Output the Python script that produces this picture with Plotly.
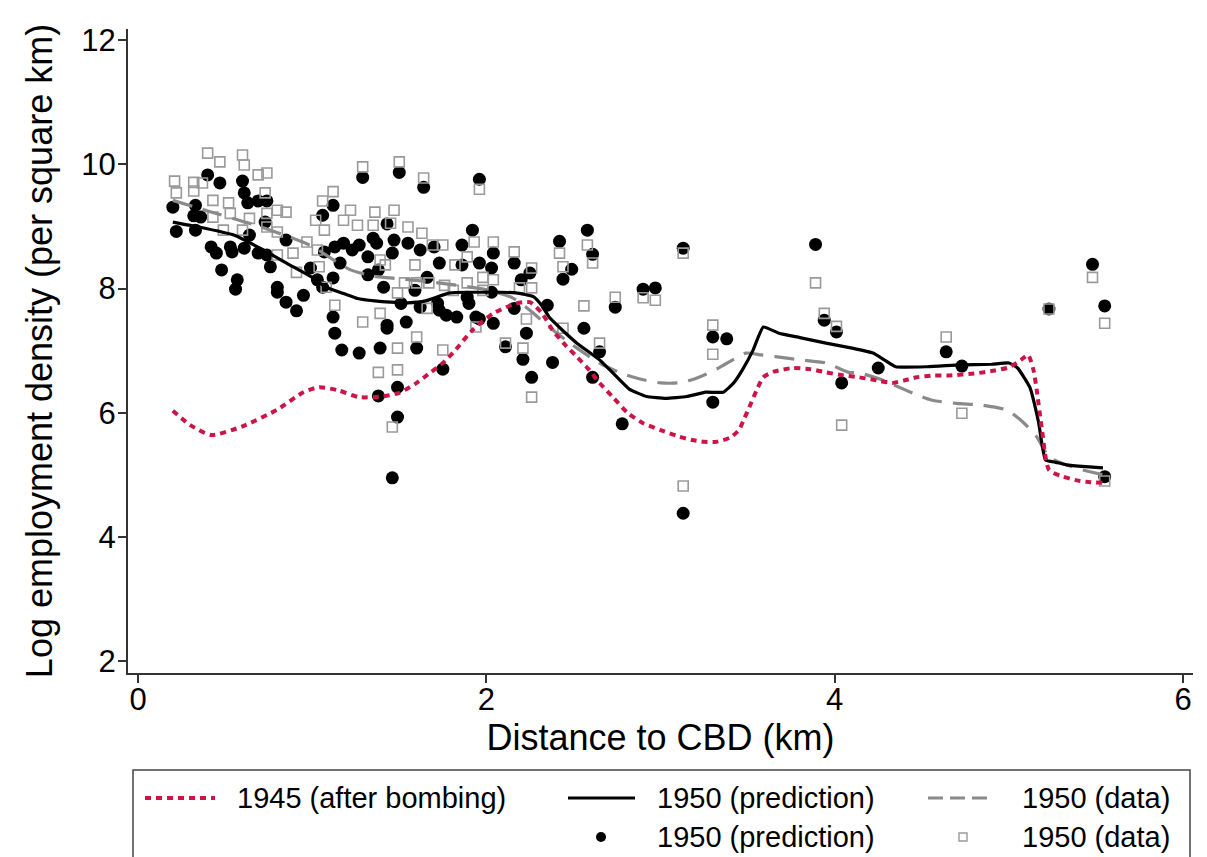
import plotly.graph_objects as go

# ---------------- data ----------------
# 1950 prediction (scatter, black dots)
pred_x = [0.20,0.22,0.33,0.32,0.36,0.33,0.40,0.47,0.42,0.45,0.48,0.53,0.54,0.57,0.56,0.60,0.61,0.63,0.69,0.74,
          0.64,0.61,0.73,0.69,0.74,0.76,0.80,0.80,0.85,0.85,0.91,0.95,0.99,1.03,1.06,1.07,1.06,1.29,1.50,1.64,
          1.96,1.12,1.92,1.13,1.16,1.18,1.23,1.27,1.32,1.35,1.37,1.32,1.38,1.47,1.46,1.43,1.55,1.62,1.70,1.73,
          1.41,1.59,1.66,1.51,1.62,1.86,1.86,1.96,2.03,2.04,1.89,1.90,2.03,1.72,1.73,1.77,1.83,1.94,2.04,1.12,
          1.43,1.54,1.12,1.13,1.17,1.27,1.39,1.43,1.60,1.75,1.38,1.49,1.49,1.46,2.11,2.16,2.58,2.42,2.61,2.49,
          2.44,2.16,2.20,2.25,2.35,2.23,2.21,2.38,2.26,2.56,2.65,2.74,2.61,2.90,2.97,1.96,3.13,2.78,3.30,3.38,
          3.30,3.13,3.89,3.94,4.01,4.04,4.25,4.64,4.73,5.23,5.48,5.55,5.55]
pred_y = [9.31,8.92,9.34,9.17,9.15,8.94,9.83,9.70,8.67,8.57,8.30,8.67,8.59,8.14,7.99,9.73,9.54,9.38,9.41,9.41,
          8.86,8.65,9.07,8.57,8.54,8.35,8.02,7.94,7.78,8.78,7.64,7.89,8.33,8.14,9.18,8.59,8.02,9.79,9.87,9.63,
          9.76,9.34,8.94,8.67,8.41,8.73,8.62,8.70,8.51,8.81,8.73,8.22,8.30,8.78,8.57,9.04,8.73,8.62,8.67,8.41,
          8.02,7.97,8.18,7.76,7.70,8.70,8.38,8.41,8.33,8.57,7.86,7.76,7.94,7.76,7.65,7.57,7.54,7.54,7.44,7.54,
          7.41,7.46,8.17,7.28,7.01,6.96,7.04,7.36,7.04,6.70,6.27,6.41,5.93,4.95,7.06,7.68,8.94,8.76,8.55,8.31,
          8.15,8.41,8.14,8.25,7.73,7.28,6.86,6.81,6.57,7.36,6.98,7.70,6.57,7.99,8.01,7.51,8.65,5.82,7.22,7.19,
          6.17,4.38,8.71,7.49,7.30,6.48,6.72,6.98,6.75,7.67,8.39,7.72,4.97]

# 1950 data (scatter, hollow gray squares)
data_x = [0.21,0.22,0.32,0.37,0.32,0.40,0.47,0.60,0.61,0.69,0.74,0.73,0.43,0.43,0.52,0.53,0.49,0.60,0.64,0.74,
          0.80,0.85,0.74,0.80,1.02,1.07,0.97,1.06,0.80,0.89,1.03,1.04,0.91,1.29,1.50,1.64,1.96,1.12,1.22,1.36,
          1.47,1.18,1.26,1.35,1.45,1.55,1.63,1.69,1.75,1.93,2.04,1.39,1.42,1.59,1.82,1.89,1.98,2.04,1.53,1.60,
          1.67,1.76,1.49,1.81,1.89,1.66,1.39,1.29,1.13,1.08,1.49,1.60,1.75,1.38,1.49,1.46,1.94,2.11,2.16,2.42,
          2.44,2.58,2.61,2.26,2.26,1.98,2.19,2.56,2.74,2.23,2.65,2.21,2.26,2.44,2.90,2.97,3.13,3.30,3.30,3.13,
          3.89,3.94,4.01,4.04,4.64,4.73,5.23,5.48,5.55,5.55]
data_y = [9.73,9.54,9.71,9.70,9.57,10.18,10.04,10.15,9.99,9.83,9.86,9.54,9.42,9.15,9.38,9.21,8.94,8.94,9.13,9.21,
          9.26,9.23,8.99,8.91,9.10,8.94,8.75,9.41,8.54,8.57,8.62,8.35,8.26,9.96,10.04,9.78,9.60,9.56,9.26,9.23,
          9.26,9.10,9.02,9.02,9.05,8.99,8.89,8.70,8.70,8.75,8.75,8.46,8.38,8.38,8.38,8.51,8.18,8.14,8.09,8.09,
          8.09,8.05,7.93,7.97,8.09,7.68,7.60,7.46,7.73,8.02,7.04,7.22,7.01,6.65,6.69,5.77,7.38,7.12,8.59,8.57,
          8.35,8.70,8.41,8.33,8.01,7.97,8.01,7.72,7.86,7.51,7.12,7.04,6.25,7.36,7.85,7.81,8.57,7.41,6.94,4.82,
          8.09,7.60,7.39,5.80,7.22,5.99,7.67,8.18,7.44,4.90]

# 1945 (after bombing) smoothed line
bomb_x = [0.20,0.30,0.42,0.60,0.80,0.95,1.04,1.15,1.27,1.40,1.50,1.60,1.68,1.75,1.82,1.92,2.04,2.17,2.25,2.32,
          2.38,2.45,2.52,2.59,2.65,2.73,2.81,2.90,3.00,3.10,3.18,3.25,3.32,3.40,3.45,3.48,3.51,3.55,3.59,3.65,
          3.76,3.86,3.95,4.05,4.14,4.24,4.33,4.40,4.47,4.57,4.66,4.80,4.92,5.00,5.07,5.11,5.14,5.16,5.19,5.23,
          5.30,5.39,5.47,5.54]
bomb_y = [6.03,5.80,5.64,5.78,6.05,6.33,6.41,6.36,6.25,6.26,6.32,6.48,6.65,6.80,7.00,7.33,7.60,7.76,7.78,7.60,
          7.33,7.10,6.90,6.69,6.48,6.24,6.00,5.83,5.72,5.62,5.56,5.53,5.53,5.60,5.72,5.90,6.09,6.35,6.57,6.66,
          6.72,6.70,6.65,6.60,6.57,6.52,6.48,6.52,6.57,6.60,6.60,6.63,6.68,6.73,6.85,6.93,6.70,6.36,5.72,5.08,
          4.98,4.91,4.88,4.87]

# 1950 prediction smoothed line
predl_x = [0.20,0.35,0.55,0.72,0.87,1.00,1.08,1.18,1.26,1.36,1.45,1.55,1.65,1.79,1.90,1.98,2.08,2.17,2.27,2.32,
           2.36,2.44,2.52,2.65,2.74,2.82,2.92,3.03,3.15,3.26,3.36,3.42,3.47,3.53,3.59,3.68,3.80,3.95,4.10,4.22,
           4.28,4.35,4.53,4.72,4.90,5.00,5.05,5.12,5.17,5.21,5.27,5.33,5.44,5.54]
predl_y = [9.07,8.99,8.86,8.62,8.38,8.18,8.02,7.92,7.84,7.80,7.78,7.77,7.80,7.93,7.94,7.94,7.94,7.93,7.87,7.72,
           7.54,7.32,7.12,6.85,6.60,6.38,6.26,6.23,6.26,6.33,6.33,6.48,6.69,7.00,7.38,7.28,7.21,7.12,7.04,6.96,
           6.86,6.74,6.74,6.77,6.78,6.80,6.72,6.41,5.85,5.24,5.20,5.16,5.13,5.11]

# 1950 data smoothed line
datal_x = [0.20,0.40,0.64,0.85,1.00,1.10,1.22,1.35,1.45,1.70,2.00,2.15,2.25,2.36,2.50,2.65,2.77,2.90,3.00,3.10,
           3.18,3.26,3.34,3.42,3.49,3.58,3.67,3.80,3.95,4.08,4.14,4.25,4.37,4.46,4.56,4.70,4.85,4.99,5.08,5.16,
           5.23,5.32,5.42,5.54]
datal_y = [9.42,9.25,9.05,8.85,8.68,8.50,8.30,8.20,8.17,8.10,7.98,7.85,7.65,7.38,7.08,6.80,6.64,6.53,6.48,6.48,
           6.53,6.62,6.73,6.86,6.96,6.93,6.90,6.85,6.80,6.65,6.64,6.55,6.41,6.30,6.20,6.15,6.12,6.04,5.85,5.61,
           5.29,5.17,5.08,5.00]

x_ticks = [0, 2, 4, 6]
y_ticks = [2, 4, 6, 8, 10, 12]
x_title = "Distance to CBD (km)"
y_title = "Log employment density (per square km)"
legend_labels = ["1945 (after bombing)", "1950 (prediction)", "1950 (data)", "1950 (prediction)", "1950 (data)"]

RED = "#CC1447"
FONT = "Liberation Sans, Arial, Helvetica, sans-serif"

fig = go.Figure()
fig.add_trace(go.Scatter(x=pred_x, y=pred_y, mode="markers", name=legend_labels[3],
                         marker=dict(symbol="circle", size=13, color="black", line=dict(width=0))))
fig.add_trace(go.Scatter(x=data_x, y=data_y, mode="markers", name=legend_labels[4],
                         marker=dict(symbol="square-open", size=10, color="#9a9a9a", line=dict(width=1.6))))
fig.add_trace(go.Scatter(x=datal_x, y=datal_y, mode="lines", name=legend_labels[2],
                         line=dict(color="#8a8a8a", width=3.2, dash="20px,11px", shape="spline", smoothing=0.6)))
fig.add_trace(go.Scatter(x=predl_x, y=predl_y, mode="lines", name=legend_labels[1],
                         line=dict(color="black", width=3.2, shape="spline", smoothing=0.4)))
fig.add_trace(go.Scatter(x=bomb_x, y=bomb_y, mode="lines", name=legend_labels[0],
                         line=dict(color=RED, width=4, dash="6px,5px", shape="spline", smoothing=0.6)))

# ---------- manual Stata-like legend (paper coords) ----------
L, R, T, B = 128, 14, 29, 184
W, H = 1207, 857
pw, ph = W - L - R, H - T - B
def px(x):
    return (x - L) / pw
def py(y):
    return (H - B - y) / ph

shapes = []
shapes.append(dict(type="rect", xref="paper", yref="paper", x0=px(133), x1=px(1190), y0=py(770), y1=py(880),
                   line=dict(color="#444444", width=1.5), fillcolor="white", layer="above"))
r1, r2 = 798, 837
shapes.append(dict(type="line", xref="paper", yref="paper", x0=px(145), x1=px(215), y0=py(r1), y1=py(r1),
                   line=dict(color=RED, width=4, dash="6px,5px")))
shapes.append(dict(type="line", xref="paper", yref="paper", x0=px(568), x1=px(635), y0=py(r1), y1=py(r1),
                   line=dict(color="black", width=3.2)))
shapes.append(dict(type="line", xref="paper", yref="paper", x0=px(928), x1=px(990), y0=py(r1), y1=py(r1),
                   line=dict(color="#8a8a8a", width=3.2, dash="15px,7px")))
shapes.append(dict(type="circle", xref="paper", yref="paper", x0=px(596), x1=px(606), y0=py(r2 + 5), y1=py(r2 - 5),
                   fillcolor="black", line=dict(color="black", width=0)))
shapes.append(dict(type="rect", xref="paper", yref="paper", x0=px(959), x1=px(967), y0=py(r2 + 4), y1=py(r2 - 4),
                   fillcolor="rgba(0,0,0,0)", line=dict(color="#9a9a9a", width=1.4)))

annotations = []
for txt, xx, yy in [(legend_labels[0], 235, r1), (legend_labels[1], 655, r1), (legend_labels[2], 1020, r1),
                    (legend_labels[3], 655, r2), (legend_labels[4], 1020, r2)]:
    annotations.append(dict(text=txt, xref="paper", yref="paper", x=px(xx), y=py(yy), xanchor="left",
                            yanchor="middle", showarrow=False, font=dict(family=FONT, size=29, color="black")))

fig.update_layout(
    width=W, height=H,
    margin=dict(l=L, r=R, t=T, b=B),
    paper_bgcolor="white", plot_bgcolor="white",
    showlegend=False,
    shapes=shapes, annotations=annotations,
    font=dict(family=FONT, color="black"),
)
fig.update_xaxes(range=[-0.0574, 6.057], tickvals=x_ticks, ticktext=[str(v) for v in x_ticks],
                 showgrid=False, zeroline=False, showline=True, linecolor="#333333", linewidth=2,
                 ticks="outside", ticklen=8, tickwidth=1.5, tickcolor="#333333", ticklabelstandoff=-10,
                 tickfont=dict(size=31, family=FONT, color="black"),
                 title=dict(text=x_title, font=dict(size=36, family=FONT, color="black"), standoff=4))
fig.update_yaxes(range=[1.807, 12.18], tickvals=y_ticks, ticktext=[str(v) for v in y_ticks],
                 showgrid=False, zeroline=False, showline=True, linecolor="#333333", linewidth=2,
                 ticks="outside", ticklen=8, tickwidth=1.5, tickcolor="#333333", ticklabelstandoff=-4,
                 tickfont=dict(size=31, family=FONT, color="black"),
                 title=dict(text=y_title, font=dict(size=36, family=FONT, color="black"), standoff=18))

fig.write_html("out.html")
